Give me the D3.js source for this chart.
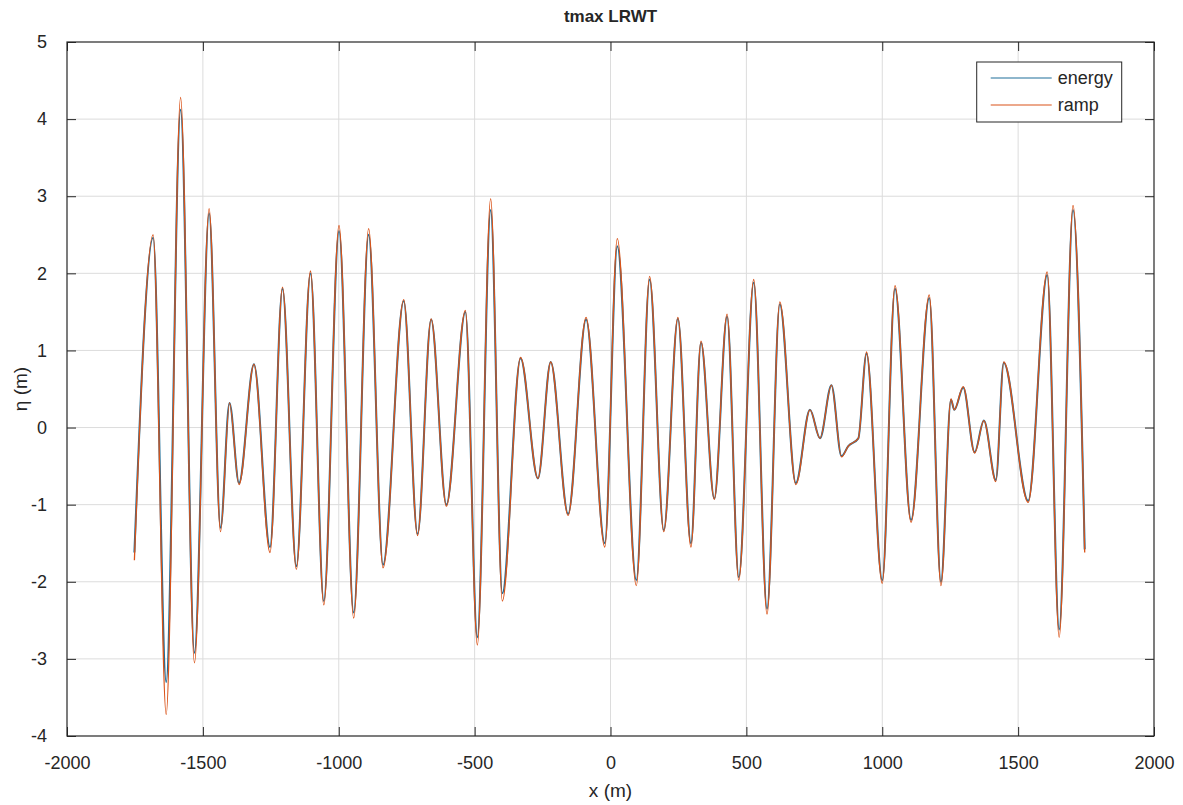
<!DOCTYPE html>
<html>
<head>
<meta charset="utf-8">
<script src="https://cdn.jsdelivr.net/npm/d3@7"></script>
<style>
  body { margin: 0; background: #fff; }
  svg text { font-family: "Liberation Sans", Arial, Helvetica, sans-serif; fill: #262626; }
</style>
</head>
<body>
<svg id="chart" width="1183" height="805"></svg>
<script>
// x positions (m) of the turning points
var xPos = [-1752, -1683, -1635, -1582, -1531, -1477, -1435, -1402, -1367, -1312,
  -1253, -1207, -1156, -1104, -1055, -999, -945, -890, -837, -761,
  -710, -660, -604, -534, -490, -441, -398, -331, -267, -220,
  -156, -90, -21, 25, 95, 144, 196, 248, 296, 333,
  382, 429, 472, 527, 576, 623, 682, 734, 771, 813,
  850, 875, 912, 942, 1000, 1047, 1106, 1173, 1216, 1253,
  1265, 1298, 1340, 1374, 1418, 1447, 1537, 1607, 1651, 1702, 1745];

// surface elevation eta (m), "ramp" run
var rampEta = [-1.72, 2.50, -3.72, 4.28, -3.05, 2.84, -1.35, 0.32, -0.74, 0.82,
  -1.62, 1.82, -1.84, 2.03, -2.30, 2.62, -2.47, 2.58, -1.82, 1.66,
  -1.40, 1.41, -1.02, 1.52, -2.82, 2.97, -2.25, 0.91, -0.66, 0.85,
  -1.14, 1.43, -1.55, 2.45, -2.05, 1.96, -1.35, 1.43, -1.55, 1.12,
  -0.93, 1.47, -1.98, 1.92, -2.42, 1.63, -0.74, 0.23, -0.14, 0.55,
  -0.38, -0.24, -0.14, 0.98, -2.02, 1.84, -1.23, 1.72, -2.05, 0.37,
  0.23, 0.53, -0.33, 0.09, -0.70, 0.85, -0.97, 2.02, -2.72, 2.88, -1.62];

// surface elevation eta (m), "energy" run
var energyEta = [-1.62, 2.46, -3.30, 4.12, -2.92, 2.78, -1.30, 0.32, -0.72, 0.82,
  -1.55, 1.80, -1.80, 2.00, -2.25, 2.55, -2.40, 2.50, -1.78, 1.64,
  -1.38, 1.40, -1.00, 1.50, -2.72, 2.82, -2.15, 0.90, -0.66, 0.85,
  -1.12, 1.40, -1.50, 2.35, -1.98, 1.92, -1.33, 1.41, -1.50, 1.10,
  -0.92, 1.44, -1.94, 1.88, -2.35, 1.60, -0.72, 0.23, -0.14, 0.55,
  -0.37, -0.24, -0.14, 0.96, -1.98, 1.80, -1.20, 1.68, -2.00, 0.36,
  0.23, 0.52, -0.32, 0.09, -0.68, 0.84, -0.95, 1.98, -2.62, 2.82, -1.58];

var xTicks = [-2000, -1500, -1000, -500, 0, 500, 1000, 1500, 2000];
var yTicks = [-4, -3, -2, -1, 0, 1, 2, 3, 4, 5];
var seriesNames = ["energy", "ramp"];
var seriesColors = ["#1f6f9a", "#D95319"];

var margin = {top: 42, right: 29, bottom: 69, left: 67},
    width = 1183 - margin.left - margin.right,
    height = 805 - margin.top - margin.bottom;

var svg = d3.select("#chart")
    .append("g")
    .attr("transform", "translate(" + margin.left + "," + margin.top + ")");

var x = d3.scaleLinear().domain([-2000, 2000]).range([0, width]);
var y = d3.scaleLinear().domain([-4, 5]).range([height, 0]);

var plainNum = function(d) { return String(d); };  // hyphen minus, no thousands comma

// grid
svg.append("g").selectAll("line")
    .data(xTicks.slice(1, -1))
    .enter().append("line")
    .attr("x1", function(d) { return x(d); })
    .attr("x2", function(d) { return x(d); })
    .attr("y1", 0).attr("y2", height)
    .style("stroke", "#dcdcdc").style("stroke-width", 1);
svg.append("g").selectAll("line")
    .data(yTicks.slice(1, -1))
    .enter().append("line")
    .attr("y1", function(d) { return y(d); })
    .attr("y2", function(d) { return y(d); })
    .attr("x1", 0).attr("x2", width)
    .style("stroke", "#dcdcdc").style("stroke-width", 1);

// lines
var line = function(vals) {
    return d3.line()
        .x(function(d, i) { return x(xPos[i]); })
        .y(function(d) { return y(d); })
        .curve(d3.curveMonotoneX)(vals);
};
svg.append("path").attr("d", line(energyEta))
    .style("fill", "none").style("stroke", seriesColors[0]).style("stroke-width", 2);
svg.append("path").attr("d", line(rampEta))
    .style("fill", "none").style("stroke", seriesColors[1]).style("stroke-width", 1.3);

// axes, ticks pointing inward like MATLAB
function styleAxis(g) {
    g.select(".domain").remove();
    g.selectAll(".tick line").style("stroke", "#262626");
    g.selectAll(".tick text").style("font-size", "18px").style("fill", "#262626")
        .attr("font-family", "Liberation Sans, Arial, sans-serif");
}
svg.append("g").attr("transform", "translate(0," + height + ")")
    .call(d3.axisBottom(x).tickValues(xTicks).tickFormat(plainNum)
        .tickSizeInner(-9).tickSizeOuter(0).tickPadding(20))
    .call(styleAxis);
svg.append("g")
    .call(d3.axisTop(x).tickValues(xTicks).tickSizeInner(-9).tickSizeOuter(0).tickFormat(""))
    .call(styleAxis);
svg.append("g")
    .call(d3.axisLeft(y).tickValues(yTicks).tickFormat(plainNum)
        .tickSizeInner(-9).tickSizeOuter(0).tickPadding(20))
    .call(styleAxis);
svg.append("g").attr("transform", "translate(" + width + ",0)")
    .call(d3.axisRight(y).tickValues(yTicks).tickSizeInner(-9).tickSizeOuter(0).tickFormat(""))
    .call(styleAxis);

svg.append("rect")
    .attr("width", width).attr("height", height)
    .style("fill", "none").style("stroke", "#262626").style("stroke-width", 1.2);

// labels
svg.append("text")
    .attr("x", width / 2).attr("y", -20)
    .attr("text-anchor", "middle")
    .style("font-size", "17px").style("font-weight", "bold")
    .text("tmax LRWT");
svg.append("text")
    .attr("x", width / 2).attr("y", height + 61)
    .attr("text-anchor", "middle")
    .style("font-size", "19px")
    .text("x (m)");
svg.append("text")
    .attr("transform", "translate(-40," + (height / 2) + ") rotate(-90)")
    .attr("text-anchor", "middle")
    .style("font-size", "19px")
    .text("η (m)");

// legend
var legend = svg.append("g").attr("transform", "translate(" + (x(1550) - 55) + ",20)");
legend.append("rect")
    .attr("width", 145).attr("height", 60)
    .style("fill", "#fff").style("stroke", "#262626").style("stroke-width", 1);
legend.selectAll("line")
    .data(seriesNames)
    .enter().append("line")
    .attr("x1", 14).attr("x2", 75)
    .attr("y1", function(d, i) { return 16 + i * 27; })
    .attr("y2", function(d, i) { return 16 + i * 27; })
    .style("stroke", function(d, i) { return seriesColors[i]; })
    .style("stroke-width", 1.2);
legend.selectAll("text")
    .data(seriesNames)
    .enter().append("text")
    .attr("x", 81)
    .attr("y", function(d, i) { return 16 + i * 27; })
    .attr("dy", "0.35em")
    .style("font-size", "18px")
    .text(function(d) { return d; });
</script>
</body>
</html>
